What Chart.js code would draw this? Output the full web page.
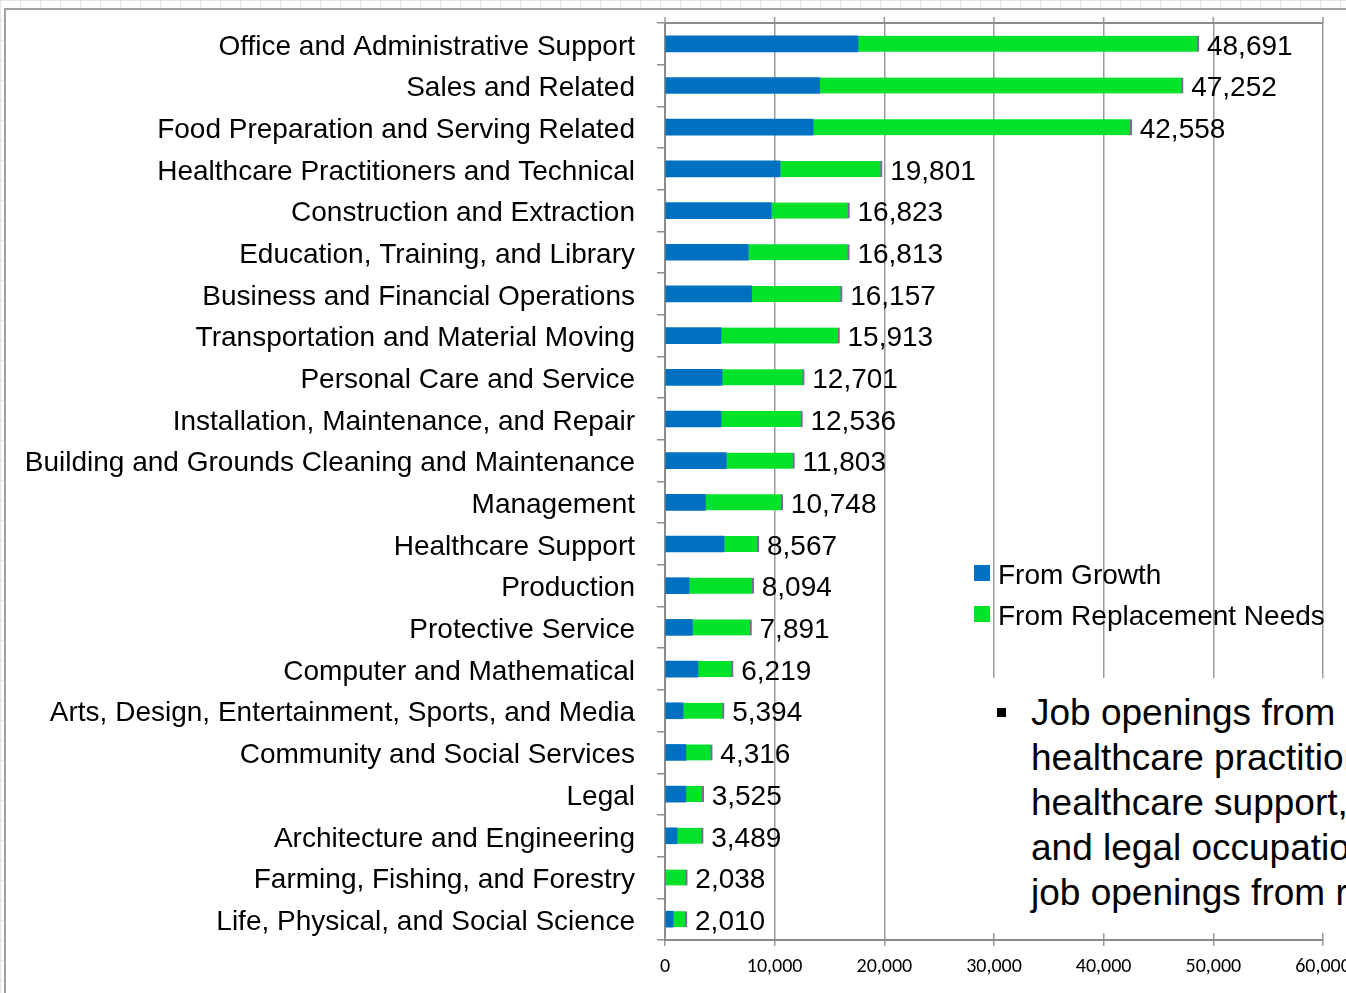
<!DOCTYPE html>
<html>
<head>
<meta charset="utf-8">
<title>Job openings by occupational group</title>
<script src="https://cdn.jsdelivr.net/npm/chart.js@4.4.0/dist/chart.umd.min.js"></script>
<style>
    html, body { margin: 0; padding: 0; width: 1346px; height: 993px; overflow: hidden; }
    body {
        position: relative;
        background-color: #fff;
        background-image: linear-gradient(#e4e4e4 1px, transparent 1px),
                          linear-gradient(90deg, #e4e4e4 1px, transparent 1px);
        background-size: 20px 20px;
        font-family: "Liberation Sans", Arial, sans-serif;
    }
    #frame { position: absolute; left: 4px; top: 8px; width: 1500px; height: 1100px;
             border: 2px solid #a0a0a0; background: #fff; }
    #wrap { position: absolute; left: 6px; top: 10px; width: 1400px; height: 983px; }
    #legend { position: absolute; left: 974px; top: 554px; font-size: 28px; color: #000; }
    .legend-row { position: relative; height: 41px; line-height: 41px; white-space: nowrap; padding-left: 24px; }
    .legend-box { position: absolute; left: 0; top: 11px; width: 16px; height: 16px; }
    #note { position: absolute; left: 972px; top: 678px; width: 420px; height: 255px; background: #fff; }
    #note .bullet { position: absolute; left: 25px; top: 30px; width: 9px; height: 9px; background: #000; }
    #note .text { position: absolute; left: 59px; top: 12px; font-size: 37px; line-height: 45px;
                  white-space: nowrap; color: #000; }
</style>
</head>
<body>
<div id="frame"></div>
<div id="wrap"><canvas id="jobsChart" width="1400" height="983"></canvas></div>
<div id="legend"></div>
<div id="note">
    <div class="bullet"></div>
    <div class="text">Job openings from<br>healthcare practitioners,<br>healthcare support,<br>and legal occupations<br>job openings from replacement</div>
</div>

<script>
// Occupational groups, largest total first
const occupations = [
    'Office and Administrative Support',
    'Sales and Related',
    'Food Preparation and Serving Related',
    'Healthcare Practitioners and Technical',
    'Construction and Extraction',
    'Education, Training, and Library',
    'Business and Financial Operations',
    'Transportation and Material Moving',
    'Personal Care and Service',
    'Installation, Maintenance, and Repair',
    'Building and Grounds Cleaning and Maintenance',
    'Management',
    'Healthcare Support',
    'Production',
    'Protective Service',
    'Computer and Mathematical',
    'Arts, Design, Entertainment, Sports, and Media',
    'Community and Social Services',
    'Legal',
    'Architecture and Engineering',
    'Farming, Fishing, and Forestry',
    'Life, Physical, and Social Science'
];

// Openings from growth
const fromGrowth = [
    17600, 14100, 13500, 10500, 9700, 7600, 7900, 5100, 5200, 5100, 5600,
    3700, 5400, 2200, 2500, 3000, 1650, 1900, 1900, 1100, 0, 750
];

// Openings from replacement needs (green bars)
const fromReplacement = [
    31091, 33152, 29058, 9301, 7123, 9213, 8257, 10813, 7501, 7436, 6203,
    7048, 3167, 5894, 5391, 3219, 3744, 2416, 1625, 2389, 2038, 1260
];

// Total openings, printed at the end of each bar
const totalOpenings = [
    48691, 47252, 42558, 19801, 16823, 16813, 16157, 15913, 12701, 12536, 11803,
    10748, 8567, 8094, 7891, 6219, 5394, 4316, 3525, 3489, 2038, 2010
];

const colors = {
    growth: '#0070c0',
    replacement: '#00e32a',
    edge: '#8064a2',
    axis: '#8c8c8c',
    grid: '#9a9a9a'
};

const labelFont = { family: "'Liberation Sans', Arial, sans-serif", size: 28 };

// Draws the total value just past the end of each stacked bar
const totalLabels = {
    id: 'totalLabels',
    afterDatasetsDraw(chart) {
        const meta = chart.getDatasetMeta(1);
        const ctx = chart.ctx;
        ctx.save();
        ctx.font = `${labelFont.size}px ${labelFont.family}`;
        ctx.fillStyle = '#000';
        ctx.textAlign = 'left';
        ctx.textBaseline = 'middle';
        meta.data.forEach((bar, i) => {
            ctx.fillText(totalOpenings[i].toLocaleString('en-US'), bar.x + 8, bar.y + 3);
        });
        ctx.restore();
    }
};

// Top edge of the plot with short tick marks sticking up at each gridline
const topEdge = {
    id: 'topEdge',
    afterDraw(chart) {
        const { ctx, chartArea } = chart;
        const xScale = chart.scales.x;
        ctx.save();
        ctx.strokeStyle = colors.grid;
        ctx.lineWidth = 1.5;
        ctx.beginPath();
        xScale.ticks.forEach(t => {
            const px = xScale.getPixelForValue(t.value);
            ctx.moveTo(px, chartArea.top - 6);
            ctx.lineTo(px, chartArea.top);
        });
        ctx.stroke();
        ctx.strokeStyle = colors.axis;
        ctx.lineWidth = 2;
        ctx.beginPath();
        ctx.moveTo(chartArea.left, chartArea.top);
        ctx.lineTo(chartArea.right, chartArea.top);
        ctx.stroke();
        ctx.restore();
    }
};

const chart = new Chart(document.getElementById('jobsChart'), {
    type: 'bar',
    data: {
        labels: occupations,
        datasets: [{
            label: 'From Growth',
            data: fromGrowth,
            backgroundColor: colors.growth,
            borderWidth: 0,
            barThickness: 16
        }, {
            label: 'From Replacement Needs',
            data: fromReplacement,
            backgroundColor: colors.replacement,
            borderColor: colors.edge,
            borderWidth: { top: 0, right: 2, bottom: 0, left: 0 },
            borderSkipped: 'start',
            barThickness: 16
        }]
    },
    options: {
        indexAxis: 'y',
        responsive: false,
        animation: false,
        devicePixelRatio: 1,
        layout: { padding: { left: 0, top: 13, right: 83, bottom: 0 } },
        plugins: {
            legend: { display: false },
            tooltip: { enabled: false }
        },
        scales: {
            x: {
                stacked: true,
                min: 0,
                max: 60000,
                position: 'bottom',
                afterFit(scale) { scale.height = 53; },
                grid: { color: colors.grid, lineWidth: 1.5, tickLength: 6 },
                border: { color: colors.axis, width: 2 },
                ticks: {
                    stepSize: 10000,
                    padding: 9,
                    color: '#000',
                    font: { family: "Carlito, Lato, sans-serif", size: 20 },
                    callback: value => value.toLocaleString('en-US')
                }
            },
            y: {
                stacked: true,
                afterFit(scale) {
                    scale.width = 659;
                    scale.paddingTop = 0;
                    scale.paddingBottom = 0;
                },
                grid: { drawOnChartArea: false, color: colors.axis, lineWidth: 1.5, tickLength: 8 },
                border: { color: colors.axis, width: 2 },
                ticks: { autoSkip: false, padding: 22, labelOffset: 3, color: '#000', font: labelFont }
            }
        }
    },
    plugins: [totalLabels, topEdge]
});

// Legend built from the chart's own datasets
const legend = document.getElementById('legend');
chart.data.datasets.forEach(ds => {
    const row = document.createElement('div');
    row.className = 'legend-row';
    const box = document.createElement('span');
    box.className = 'legend-box';
    box.style.background = ds.backgroundColor;
    row.appendChild(box);
    row.appendChild(document.createTextNode(ds.label));
    legend.appendChild(row);
});
</script>
</body>
</html>
